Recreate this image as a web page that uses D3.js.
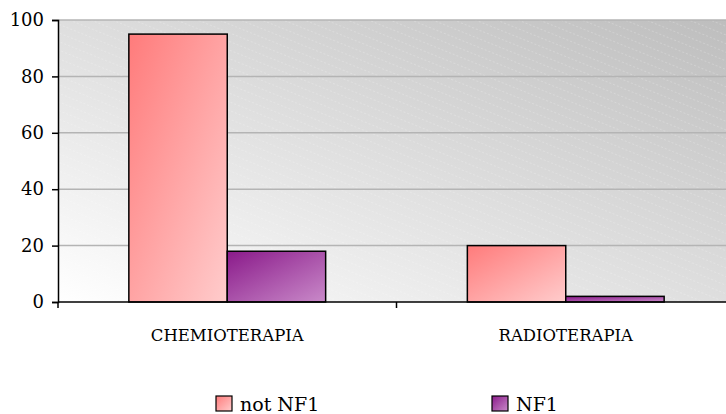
<!DOCTYPE html>
<html><head><meta charset="utf-8">
<script src="https://cdn.jsdelivr.net/npm/d3@7"></script>
<style>body{margin:0;background:#fff}svg{display:block}</style>
</head><body>
<svg id="c" width="726" height="414"></svg>
<script>
const categories = ["CHEMIOTERAPIA", "RADIOTERAPIA"];
const series = ["not NF1", "NF1"];
const notNF1 = [95, 20];
const NF1 = [18, 2];
const yTicks = [0, 20, 40, 60, 80, 100];

const svg = d3.select("#c");
const M = {l: 58, t: 20, b: 302, r: 735};
const font = "'DejaVu Serif', serif";

const x0 = d3.scaleBand().domain(categories).range([M.l, M.r]).padding(0);
const x1 = d3.scaleBand().domain(series).range([0, x0.bandwidth()]).paddingInner(0).paddingOuter(0.72);
const y = d3.scaleLinear().domain([0, 100]).range([M.b, M.t]);

const defs = svg.append("defs");
const bg = defs.append("linearGradient").attr("id", "bg").attr("x1", "0").attr("y1", "1").attr("x2", "1").attr("y2", "0");
bg.append("stop").attr("offset", "0").attr("stop-color", "#ffffff");
bg.append("stop").attr("offset", "1").attr("stop-color", "#bdbdbd");
const stripe = defs.append("pattern").attr("id", "stripe").attr("patternUnits", "userSpaceOnUse")
  .attr("width", 20).attr("height", 8).attr("patternTransform", "rotate(22)");
stripe.append("line").attr("x1", 0).attr("y1", 0).attr("x2", 20).attr("y2", 0)
  .attr("stroke", "#ffffff").attr("stroke-opacity", 0.4).attr("stroke-width", 1.2).attr("stroke-dasharray", "2,2");
const g1 = defs.append("linearGradient").attr("id", "gp").attr("x1", "0").attr("y1", "0").attr("x2", "1").attr("y2", "1");
g1.append("stop").attr("offset", "0").attr("stop-color", "#ff7b7b");
g1.append("stop").attr("offset", "1").attr("stop-color", "#ffcccc");
const g2 = defs.append("linearGradient").attr("id", "gv").attr("x1", "0").attr("y1", "0").attr("x2", "1").attr("y2", "1");
g2.append("stop").attr("offset", "0").attr("stop-color", "#8a1a8a");
g2.append("stop").attr("offset", "1").attr("stop-color", "#c98ac9");
const fills = {"not NF1": "url(#gp)", "NF1": "url(#gv)"};

// plot background
svg.append("rect").attr("x", M.l).attr("y", M.t).attr("width", M.r - M.l).attr("height", M.b - M.t).attr("fill", "url(#bg)");
svg.append("rect").attr("x", M.l).attr("y", M.t).attr("width", M.r - M.l).attr("height", M.b - M.t).attr("fill", "url(#stripe)");

// gridlines
svg.append("g").selectAll("line").data(yTicks.filter(d => d > 0)).join("line")
  .attr("x1", M.l).attr("x2", M.r).attr("y1", d => y(d)).attr("y2", d => y(d))
  .attr("stroke", "#b4b4b4").attr("stroke-width", 1.5);

// bars
const data = categories.map((c, i) => ({c, vals: [{s: "not NF1", v: notNF1[i]}, {s: "NF1", v: NF1[i]}]}));
svg.append("g").selectAll("g").data(data).join("g")
  .attr("transform", d => `translate(${x0(d.c)},0)`)
  .selectAll("rect").data(d => d.vals).join("rect")
  .attr("x", d => x1(d.s)).attr("width", x1.bandwidth())
  .attr("y", d => y(d.v)).attr("height", d => y(0) - y(d.v))
  .attr("fill", d => fills[d.s]).attr("stroke", "#000").attr("stroke-width", 1.5);

// y axis
const ya = svg.append("g").attr("transform", `translate(${M.l},0)`)
  .call(d3.axisLeft(y).tickValues(yTicks).tickSize(6).tickPadding(8));
ya.select(".domain").attr("stroke", "#000").attr("stroke-width", 1.5);
ya.selectAll(".tick line").attr("stroke", "#000").attr("stroke-width", 1.5);
ya.selectAll("text").attr("font-family", font).attr("font-size", 18).attr("fill", "#000");

// x axis
const xa = svg.append("g").attr("transform", `translate(0,${M.b})`)
  .call(d3.axisBottom(x0).tickSize(0).tickPadding(27));
xa.select(".domain").remove();
xa.selectAll("text").attr("font-family", font).attr("font-size", 16.5).attr("fill", "#000");
svg.append("line").attr("x1", M.l).attr("x2", M.r).attr("y1", M.b).attr("y2", M.b).attr("stroke", "#000").attr("stroke-width", 1.5);
svg.append("g").selectAll("line").data(categories.concat(["end"])).join("line")
  .attr("x1", (d, i) => M.l + i * x0.step()).attr("x2", (d, i) => M.l + i * x0.step())
  .attr("y1", M.b).attr("y2", M.b + 6).attr("stroke", "#000").attr("stroke-width", 1.5);

// legend
const lx = [216, 492];
const lg = svg.append("g").selectAll("g").data(series).join("g")
  .attr("transform", (d, i) => `translate(${lx[i]},396)`);
lg.append("rect").attr("width", 16).attr("height", 15).attr("fill", d => fills[d]).attr("stroke", "#000").attr("stroke-width", 1.2);
lg.append("text").attr("x", 24).attr("y", 15).text(d => d)
  .attr("font-family", font).attr("font-size", 19).attr("fill", "#000");
</script>
</body></html>
